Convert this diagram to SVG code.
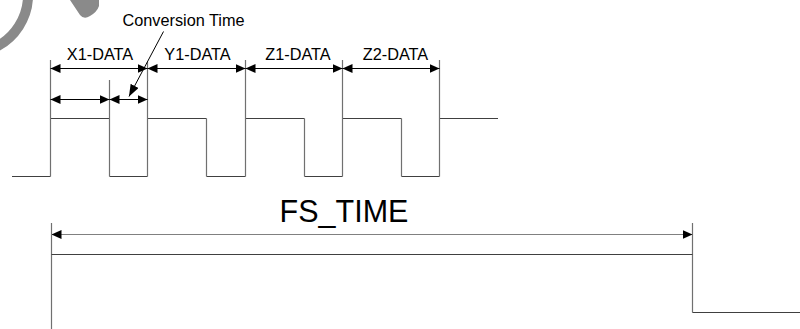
<svg xmlns="http://www.w3.org/2000/svg" width="800" height="329" viewBox="0 0 800 329">
  <defs>
    <marker id="ah" viewBox="0 0 10 9" refX="10" refY="4.5" markerWidth="10" markerHeight="9" markerUnits="userSpaceOnUse" orient="auto-start-reverse">
      <path d="M0,0 L10,4.5 L0,9 Z" fill="#000"/>
    </marker>
    <marker id="ah2" viewBox="0 0 12 9" refX="12" refY="4.5" markerWidth="12" markerHeight="9" markerUnits="userSpaceOnUse" orient="auto">
      <path d="M0,0 L12,4.5 L0,9 Z" fill="#000"/>
    </marker>
  </defs>
  <style>
    .lbl { font-family: "Liberation Sans", Arial, sans-serif; font-size: 16.3px; fill: #000; text-anchor: middle; }
    .big { font-family: "Liberation Sans", Arial, sans-serif; font-size: 30.5px; fill: #000; text-anchor: middle; }
    .wave { fill: none; stroke: #404040; stroke-width: 1.2; }
    .ext { fill: none; stroke: #707070; stroke-width: 1.2; }
    .dim { fill: none; stroke: #000; stroke-width: 1.2; marker-start: url(#ah); marker-end: url(#ah); }
    .dimg { fill: none; stroke: #808080; stroke-width: 1.2; marker-start: url(#ah); marker-end: url(#ah); }
  </style>
  <rect width="800" height="329" fill="#fff"/>

  <g id="watermark" fill="none" stroke="#8a8a8a">
    <path d="M27.8,-10 A58,58 0 0 1 -10.2,49.5" stroke-width="10"/>
    <path d="M70,0 L99,0 L99,6 Q97,12 90,16 Q84,20 80,15 Z" fill="#8a8a8a" stroke="none"/>
  </g>

  <g id="signal-wave">
    <path class="wave" d="M12,176.5 H50.5 M50.5,118.5 H109.5 M109.5,176.5 H147.5 M147.5,118.5 H206.5 M206.5,176.5 H245.5 M245.5,118.5 H304.5 M304.5,176.5 H342.5 M342.5,118.5 H401.5 M401.5,176.5 H439.5 M439.5,118.5 H498"/>
    <path class="ext" d="M50.5,60 V176.5 M109.5,80 V176.5 M147.5,62 V176.5 M206.5,118.5 V176.5 M245.5,60 V176.5 M304.5,118.5 V176.5 M342.5,60 V176.5 M401.5,118.5 V176.5 M439.5,60 V176.5"/>
  </g>

  <g id="fs-wave">
    <path class="ext" d="M51.5,223 V329 M692.5,223 V312.5"/>
    <path class="wave" d="M51.5,254.5 H692.5 M692.5,312.5 H800" stroke="#222"/>
  </g>

  <g id="connectors">
    <line class="dim" x1="50.5" y1="68.5" x2="147.5" y2="68.5"/>
    <line class="dim" x1="147.5" y1="68.5" x2="245.5" y2="68.5"/>
    <line class="dim" x1="245.5" y1="68.5" x2="342.5" y2="68.5"/>
    <line class="dim" x1="342.5" y1="68.5" x2="439.5" y2="68.5"/>
    <line class="dim" x1="50.5" y1="99.5" x2="109.5" y2="99.5"/>
    <line class="dim" x1="109.5" y1="99.5" x2="147.5" y2="99.5"/>
    <line fill="none" stroke="#000" stroke-width="1" x1="163.5" y1="31.5" x2="129" y2="96.5" marker-end="url(#ah2)"/>
    <line class="dimg" x1="51.5" y1="234.5" x2="692.5" y2="234.5"/>
  </g>

  <g id="labels">
    <text class="lbl" x="183.5" y="26">Conversion Time</text>
    <text class="lbl" x="100" y="60">X1-DATA</text>
    <text class="lbl" x="197.5" y="60">Y1-DATA</text>
    <text class="lbl" x="298" y="60">Z1-DATA</text>
    <text class="lbl" x="395.5" y="60">Z2-DATA</text>
    <text class="big" x="344" y="222">FS_TIME</text>
  </g>
</svg>
